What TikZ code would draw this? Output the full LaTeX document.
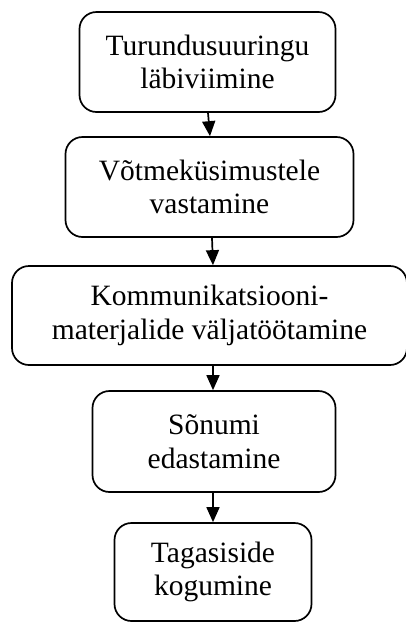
\documentclass[tikz,border=0pt]{standalone}
\usepackage{fontspec}
\setmainfont{Liberation Serif}
\usetikzlibrary{arrows.meta}
\begin{document}
\begin{tikzpicture}[x=1pt,y=1pt,
  stepbox/.style={draw, line width=1.7pt, rounded corners=17pt, align=center,
    inner sep=0pt, font=\fontsize{29.5}{33.5}\selectfont},
  flow/.style={line width=1.7pt, -{Triangle[length=15pt,width=13pt]}}]
\useasboundingbox (0,0) rectangle (406,-622);
\node[stepbox, minimum width=256, minimum height=100] (n1) at (207.5,-62)
  {Turundusuuringu\\läbiviimine};
\node[stepbox, minimum width=288, minimum height=100] (n2) at (209.5,-187)
  {Võtmeküsimustele\\vastamine};
\node[stepbox, minimum width=395, minimum height=99] (n3) at (209.5,-315.5)
  {Kommunikatsiooni-\\materjalide väljatöötamine};
\node[stepbox, minimum width=243, minimum height=101] (n4) at (214,-441.5)
  {Sõnumi\\edastamine};
\node[stepbox, minimum width=197, minimum height=98] (n5) at (213,-572)
  {Tagasiside\\kogumine};
\draw[flow] ([xshift=0.5]n1.south) -- ([xshift=0.5]n2.north);
\draw[flow] ([xshift=2.5]n2.south) -- ([xshift=3.5]n3.north);
\draw[flow] ([xshift=3.5]n3.south) -- ([xshift=-1]n4.north);
\draw[flow] ([xshift=-1]n4.south) -- (n5.north);
\end{tikzpicture}
\end{document}
